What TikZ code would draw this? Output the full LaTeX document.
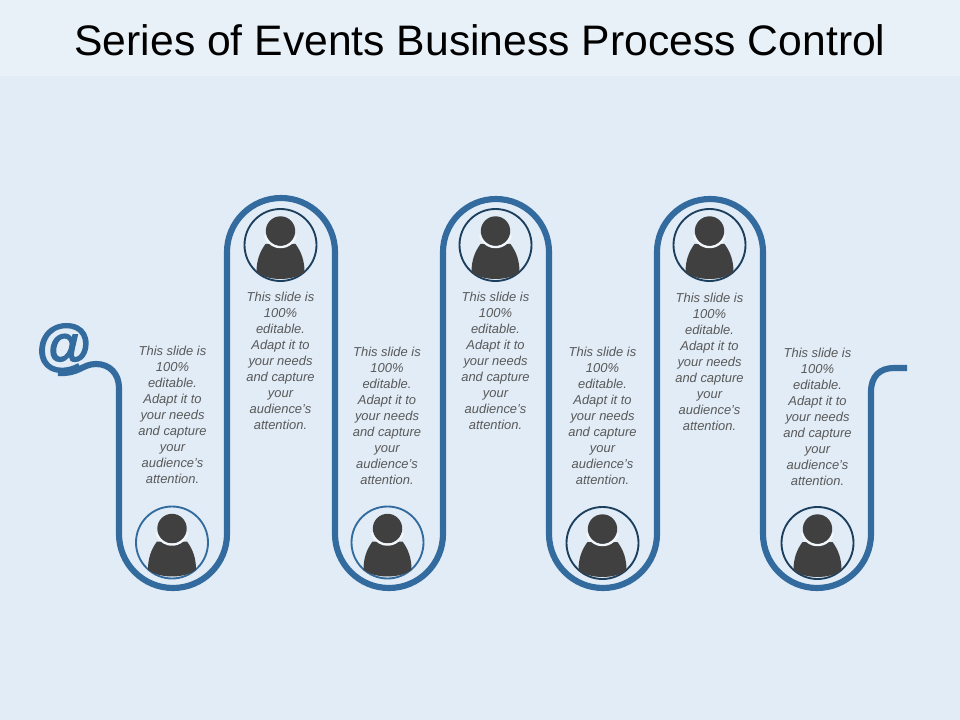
\documentclass[tikz,border=0pt]{standalone}
\usepackage{fontspec}
\setmainfont{Liberation Sans}
\newfontfamily\atfont[BoldItalicFeatures={FakeBold=2.5}]{Liberation Sans}
\usepackage{xcolor}
\definecolor{pagebg}{HTML}{E1ECF6}
\definecolor{headbg}{HTML}{E9F1F8}
\definecolor{ribbon}{HTML}{336B9F}
\definecolor{ringdark}{HTML}{1D3F5E}
\definecolor{figure}{HTML}{404040}
\definecolor{bodytext}{HTML}{595959}
\definecolor{headgap}{HTML}{F2F7FB}
\tikzset{
    person/.pic = {
        \fill[figure] (-24,27) .. controls (-24,16) and (-21,7) .. (-15,-1) -- (15,-1)
            .. controls (21,7) and (24,16) .. (24,27)
            .. controls (14,36.3) and (-14,36.3) .. (-24,27) -- cycle;
        \draw[headgap, line width=1.9pt] (0,-14) ++(15:16) arc[start angle=15, end angle=165, radius=16];
        \fill[figure] (0,-14) circle (14.7);
    },
}
\begin{document}
\begin{tikzpicture}[x=0.75pt, y=-0.75pt]
        \fill[pagebg] (0,0) rectangle (960,720);
        \fill[headbg] (0,0) rectangle (960,76);
        \useasboundingbox (0,0) rectangle (960,720);

        \node (Title) at (480,40) {\fontsize{32}{38}\selectfont Series of Events Business Process Control};

        \coordinate (Tail) at (58,373);
        \coordinate (Head) at (907,368);
        \draw[ribbon, line width=4.6pt] (Tail) .. controls (80,374) and (82,364) .. (96,364)
            .. controls (110,364) and (119,374) .. (119,388) -- (119,534)
            arc[start angle=180, end angle=0, radius=54] -- (227,252)
            arc[start angle=180, end angle=360, radius=54] -- (335,534)
            arc[start angle=180, end angle=0, radius=54] -- (443,252)
            arc[start angle=180, end angle=360, radius=53] -- (549,534)
            arc[start angle=180, end angle=0, radius=54] -- (657,252)
            arc[start angle=180, end angle=360, radius=53] -- (763,534)
            arc[start angle=180, end angle=0, radius=54] -- (871,392)
            .. controls (871,376) and (880,368) .. (894,368) -- (Head);

        \node[text=ribbon, inner sep=0pt] (At) at (63,348) {\fontsize{42}{42}\atfont\bfseries\itshape @};

        \begin{scope}[every node/.style = {circle, minimum size=54pt, inner sep=0pt, line width=1.4pt}]
            \node[draw=ribbon] (PA) at (172,542.5) {};
            \node[draw=ringdark] (PB) at (280.5,245) {};
            \node[draw=ribbon] (PC) at (387.5,542.5) {};
            \node[draw=ringdark] (PD) at (495.5,245) {};
            \node[draw=ringdark] (PE) at (602.5,543) {};
            \node[draw=ringdark] (PF) at (709.5,245) {};
            \node[draw=ringdark] (PG) at (817.5,543) {};
        \end{scope}

        \pic at (PA) {person};
        \pic at (PB) {person};
        \pic at (PC) {person};
        \pic at (PD) {person};
        \pic at (PE) {person};
        \pic at (PF) {person};
        \pic at (PG) {person};

        \begin{scope}[every node/.style = {align=center, text=bodytext, inner sep=0pt,
                font=\fontsize{9.7}{12}\selectfont\itshape}]
            \node (TA) at (172.5,414.5) {This slide is\\100\%\\editable.\\Adapt it to\\your needs\\and capture\\your\\audience's\\attention.};
            \node (TB) at (280.5,361) {This slide is\\100\%\\editable.\\Adapt it to\\your needs\\and capture\\your\\audience's\\attention.};
            \node (TC) at (387,416) {This slide is\\100\%\\editable.\\Adapt it to\\your needs\\and capture\\your\\audience's\\attention.};
            \node (TD) at (495.5,361) {This slide is\\100\%\\editable.\\Adapt it to\\your needs\\and capture\\your\\audience's\\attention.};
            \node (TE) at (602.5,416) {This slide is\\100\%\\editable.\\Adapt it to\\your needs\\and capture\\your\\audience's\\attention.};
            \node (TF) at (709.5,362) {This slide is\\100\%\\editable.\\Adapt it to\\your needs\\and capture\\your\\audience's\\attention.};
            \node (TG) at (817.5,417) {This slide is\\100\%\\editable.\\Adapt it to\\your needs\\and capture\\your\\audience's\\attention.};
        \end{scope}
    \end{tikzpicture}
\end{document}
